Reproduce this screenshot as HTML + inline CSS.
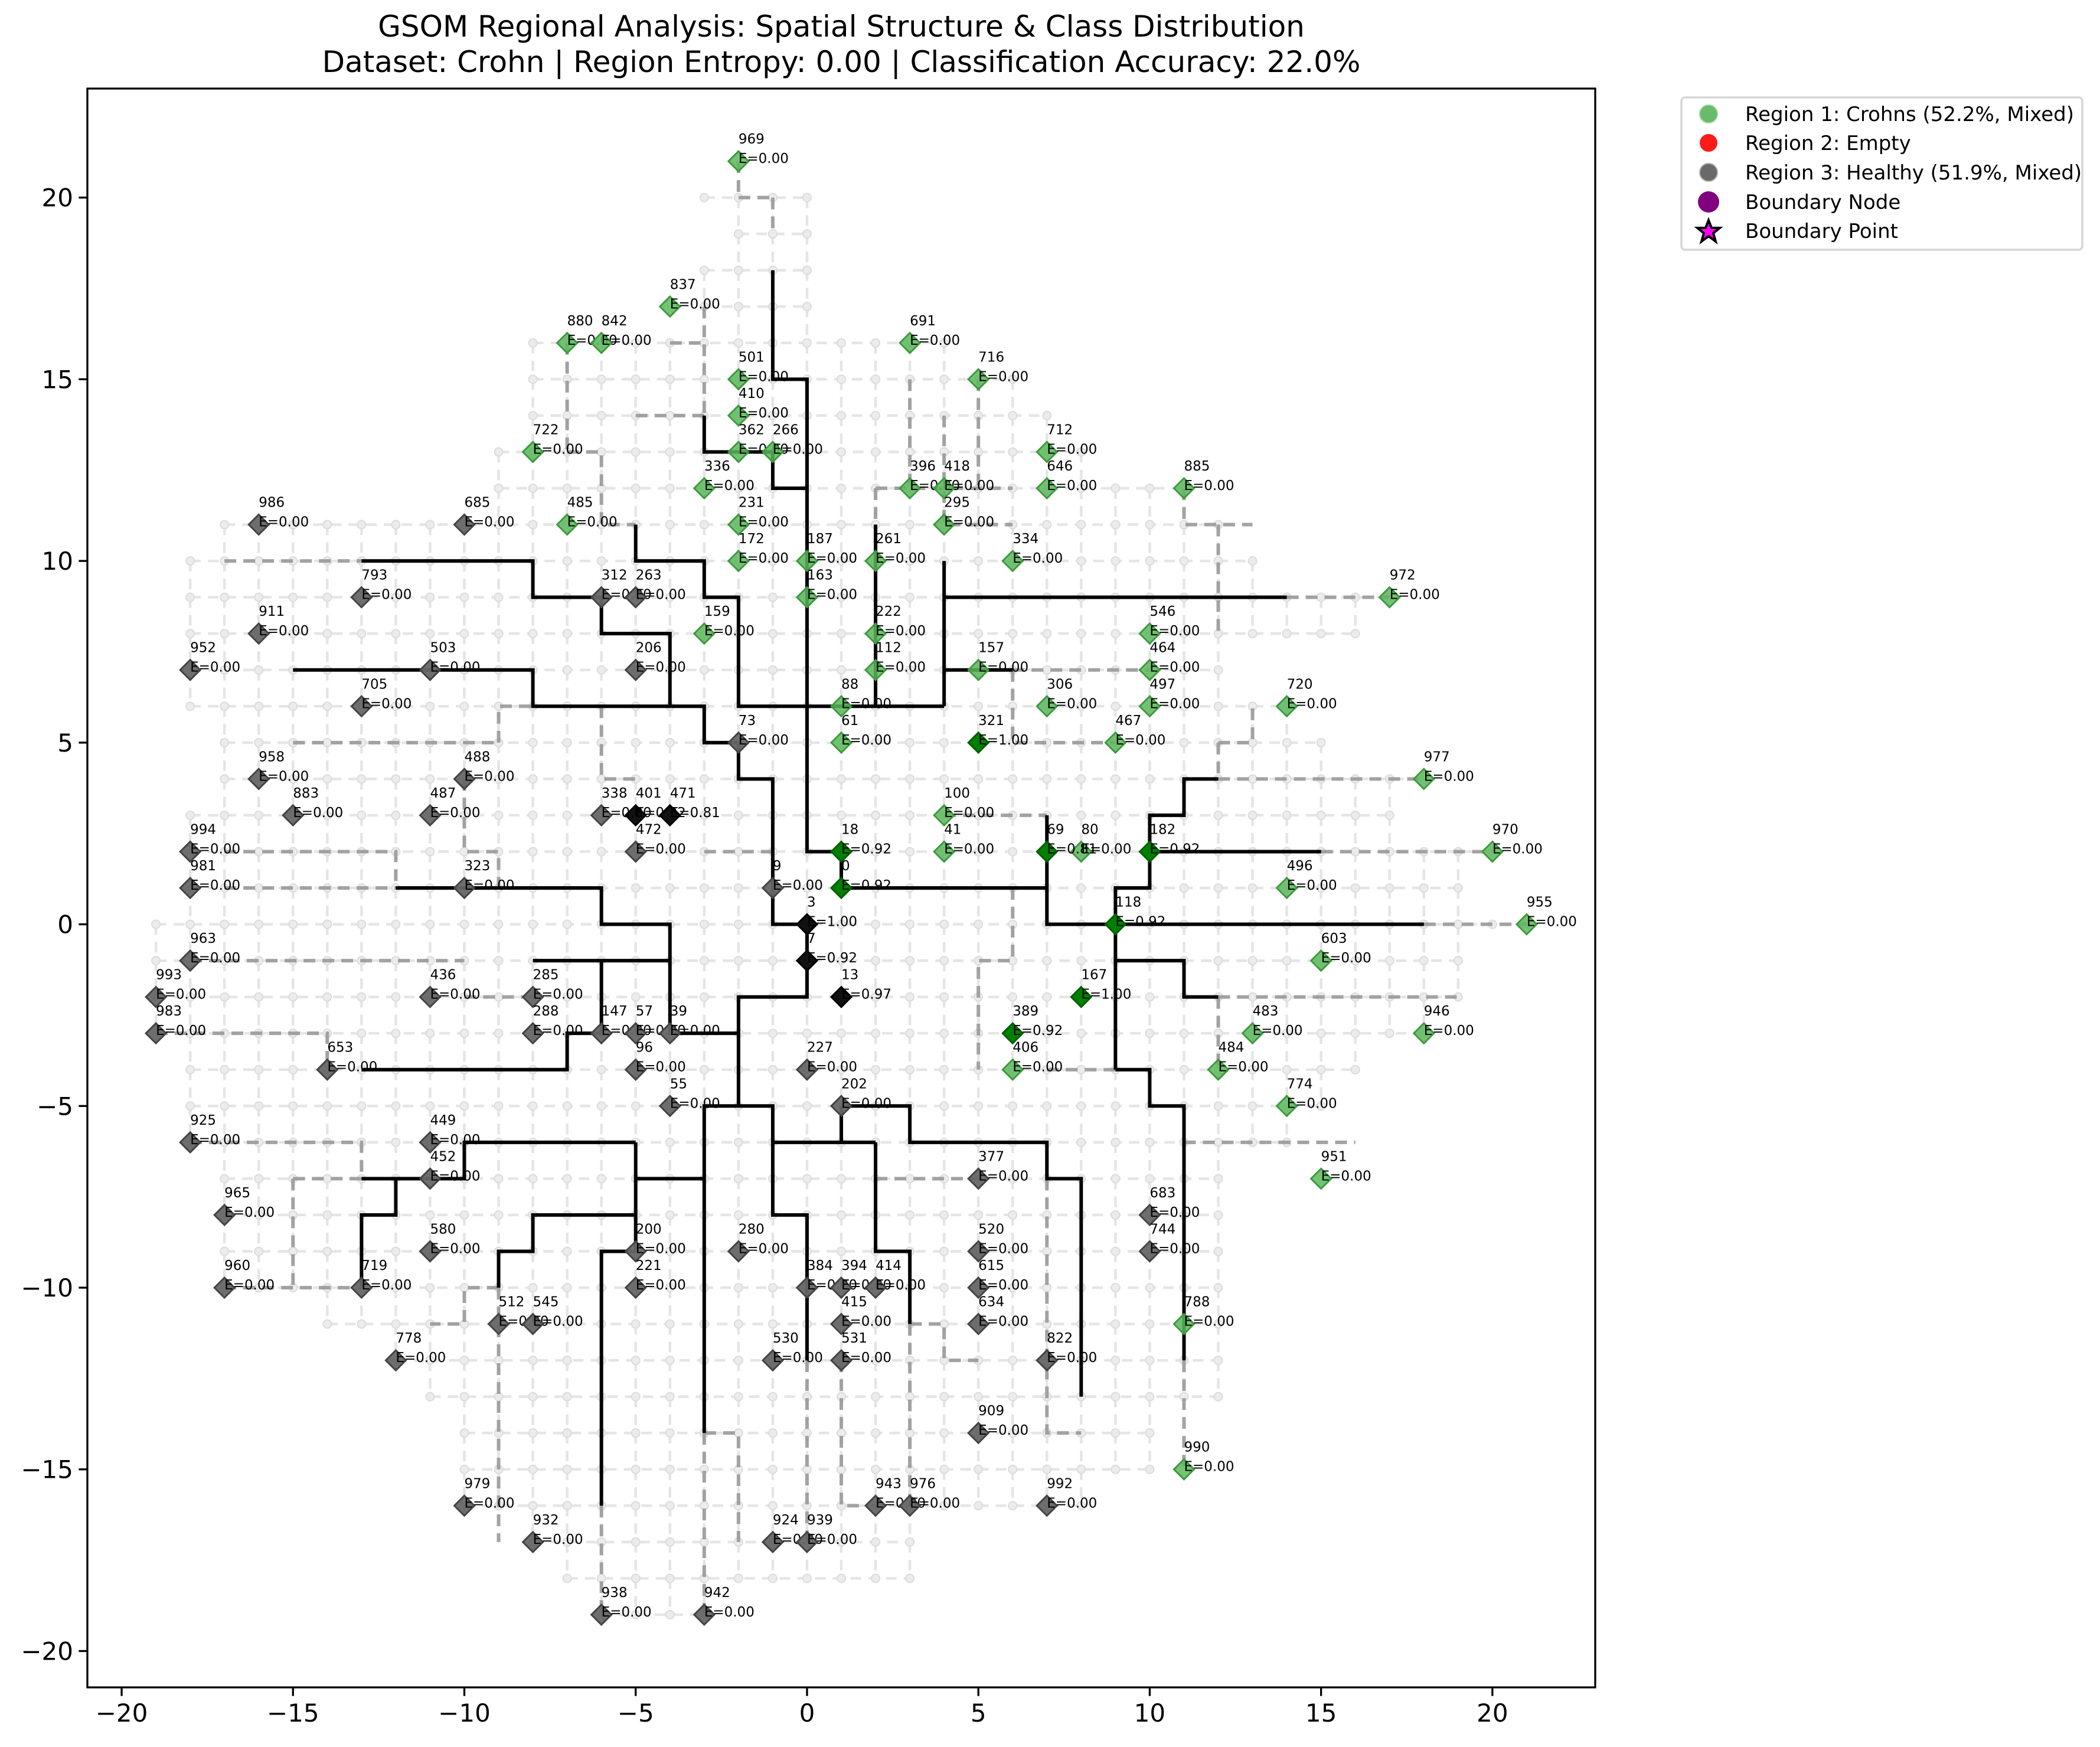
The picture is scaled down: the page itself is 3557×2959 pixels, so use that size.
<!DOCTYPE html>
<html><head><meta charset="utf-8"><style>
html,body{margin:0;padding:0;background:#fff;}
svg{display:block;font-family:"DejaVu Sans","Liberation Sans",sans-serif;}
</style></head><body>
<svg id="chart" width="3557" height="2959" viewBox="0 0 3557 2959" xmlns="http://www.w3.org/2000/svg">
<rect x="0" y="0" width="3557" height="2959" fill="#fff"/>
<text x="1425" y="62" font-size="50" text-anchor="middle">GSOM Regional Analysis: Spatial Structure &amp; Class Distribution</text>
<text x="1425" y="122" font-size="50" text-anchor="middle">Dataset: Crohn | Region Entropy: 0.00 | Classification Accuracy: 22.0%</text>
<g id="grid"></g>
<g id="gpaths"></g>
<g id="bpaths"></g>
<g id="nodes"></g>
<g id="axes"></g>
<g id="legend">
<rect x="2848" y="165" width="679" height="258" rx="6" fill="#fff" stroke="#d6d6d6" stroke-width="3.5"/>
<g><circle cx="2894" cy="193" r="15" fill="#4caf50" fill-opacity="0.85" stroke="#9cd39c" stroke-width="2"/><text x="2956" y="205" font-size="34">Region 1: Crohns (52.2%, Mixed)</text></g>
<g><circle cx="2894" cy="242" r="15" fill="#ff1a1a"/><text x="2956" y="254" font-size="34">Region 2: Empty</text></g>
<g><circle cx="2894" cy="292" r="15" fill="#696969" stroke="#aaa" stroke-width="2"/><text x="2956" y="304" font-size="34">Region 3: Healthy (51.9%, Mixed)</text></g>
<g><circle cx="2894" cy="342" r="18" fill="#800080"/><text x="2956" y="354" font-size="34">Boundary Node</text></g>
<g><polygon points="2894,373 2899,386 2913,386 2902,395 2906,409 2894,400 2882,409 2886,395 2875,386 2889,386" fill="#ff00ff" stroke="#000" stroke-width="4"/><text x="2956" y="403" font-size="34">Boundary Point</text></g>
</g>
</svg>
<script>
// ---- data ----
const nodeIds = [969,837,880,842,691,501,716,410,722,362,266,712,336,396,418,646,885,485,231,295,172,187,261,334,163,972,159,222,546,112,157,464,88,306,497,720,61,467,977,100,41,80,970,496,955,603,483,946,406,484,774,951,788,990,
321,18,0,69,182,118,167,389,
3,7,13,401,471,
986,685,793,312,263,911,952,503,206,705,958,488,883,487,338,994,472,981,323,9,963,993,436,285,983,288,147,57,39,653,96,227,55,202,925,449,452,377,965,683,580,200,280,520,744,960,719,221,384,394,414,615,512,545,415,634,778,530,531,822,909,979,943,976,992,932,924,939,938,942,73];
const nodeX = [-2,-4,-7,-6,3,-2,5,-2,-8,-2,-1,7,-3,3,4,7,11,-7,-2,4,-2,0,2,6,0,17,-3,2,10,2,5,10,1,7,10,14,1,9,18,4,4,8,20,14,21,15,13,18,6,12,14,15,11,11,
5,1,1,7,10,9,8,6,
0,0,1,-5,-4,
-16,-10,-13,-6,-5,-16,-18,-11,-5,-13,-16,-10,-15,-11,-6,-18,-5,-18,-10,-1,-18,-19,-11,-8,-19,-8,-6,-5,-4,-14,-5,0,-4,1,-18,-11,-11,5,-17,10,-11,-5,-2,5,10,-17,-13,-5,0,1,2,5,-9,-8,1,5,-12,-1,1,7,5,-10,2,3,7,-8,-1,0,-6,-3,-2];
const nodeY = [21,17,16,16,16,15,15,14,13,13,13,13,12,12,12,12,12,11,11,11,10,10,10,10,9,9,8,8,8,7,7,7,6,6,6,6,5,5,4,3,2,2,2,1,0,-1,-3,-3,-4,-4,-5,-7,-11,-15,
5,2,1,2,2,0,-2,-3,
0,-1,-2,3,3,
11,11,9,9,9,8,7,7,7,6,4,4,3,3,3,2,2,1,1,1,-1,-2,-2,-2,-3,-3,-3,-3,-3,-4,-4,-4,-5,-5,-6,-6,-7,-7,-8,-8,-9,-9,-9,-9,-9,-10,-10,-10,-10,-10,-10,-10,-11,-11,-11,-11,-12,-12,-12,-12,-14,-16,-16,-16,-16,-17,-17,-17,-19,-19,5];
const nodeClass = "ggggggggggggggggggggggggggggggggggggggggggggggggggggggGGGGGGGGbbbbbkkkkkkkkkkkkkkkkkkkkkkkkkkkkkkkkkkkkkkkkkkkkkkkkkkkkkkkkkkkkkkkkkkkkkkk";
const nodeE = {321:"1.00",18:"0.92",0:"0.92",69:"0.81",182:"0.92",118:"0.92",167:"1.00",389:"0.92",3:"1.00",7:"0.92",13:"0.97",401:"0.92",471:"0.81"};

const treePaths = [
 [[-1,18],[-1,15],[0,15],[0,2],[1,2],[1,1]],
 [[-3,14],[-3,13],[-1,13],[-1,12],[0,12]],
 [[-13,10],[-8,10],[-8,9],[-6,9],[-6,8],[-4,8],[-4,6]],
 [[-5,11],[-5,10],[-3,10],[-3,9],[-2,9],[-2,6],[4,6]],
 [[-15,7],[-8,7],[-8,6],[-3,6],[-3,5],[-2,5],[-2,4],[-1,4],[-1,0],[0,0]],
 [[-12,1],[-6,1],[-6,0],[-4,0],[-4,-3],[-2,-3]],
 [[2,11],[2,6]],
 [[4,10],[4,6]],[[4,9],[14,9]],[[4,7],[6,7]],
 [[1,1],[7,1]],[[7,3],[7,0],[18,0]],
 [[9,-4],[9,1],[10,1],[10,3],[11,3],[11,4],[12,4]],[[10,2],[15,2]],
 [[9,-1],[11,-1],[11,-2],[12,-2]],
 [[9,-4],[10,-4],[10,-5],[11,-5],[11,-12]],
 [[0,0],[0,-2],[-2,-2],[-2,-5]],
 [[-8,-1],[-4,-1]],
 [[-6,-1],[-6,-3],[-7,-3],[-7,-4],[-13,-4]],
 [[-3,-14],[-3,-5],[-1,-5],[-1,-8],[0,-8],[0,-12]],
 [[-1,-6],[2,-6]],
 [[1,-5],[1,-6]],[[1,-5],[3,-5],[3,-6],[7,-6],[7,-7],[8,-7],[8,-13]],
 [[2,-6],[2,-9],[3,-9],[3,-11]],
 [[-5,-7],[-3,-7]],
 [[-5,-6],[-10,-6],[-10,-7],[-13,-7]],
 [[-12,-7],[-12,-8],[-13,-8],[-13,-10]],
 [[-5,-6],[-5,-9]],[[-5,-8],[-8,-8],[-8,-9],[-9,-9],[-9,-10]],
 [[-5,-9],[-6,-9],[-6,-16]]
];
const grayPaths = [
 [[-17,10],[-13,10]],[[-9,5],[-9,6],[-8,6]],[[-15,5],[-9,5]],[[-6,6],[-6,4],[-5,4]],
 [[-7,13],[-6,13],[-6,11],[-5,11]],[[-5,14],[-3,14]],[[-3,17],[-3,14]],[[-7,16],[-7,13]],[[-4,16],[-3,16]],
 [[-2,20],[-1,20]],[[-2,21],[-2,20]],[[-1,20],[-1,19]],
 [[-17,2],[-12,2],[-12,1]],[[-17,1],[-12,1]],[[-10,4],[-10,2],[-9,2],[-9,1]],[[-3,2],[-1,2]],
 [[2,12],[6,12]],[[2,12],[2,11]],[[3,15],[3,12]],[[4,14],[4,11],[6,11]],[[5,15],[5,12]],
 [[11,12],[11,11],[13,11]],[[12,11],[12,8]],[[14,9],[17,9]],[[6,7],[10,7]],[[6,7],[6,5],[9,5]],
 [[12,5],[13,5],[13,6]],[[12,5],[12,4]],[[12,4],[18,4]],[[15,2],[20,2]],[[18,0],[21,0]],[[4,3],[7,3]],
 [[6,1],[6,-1],[5,-1],[5,-4]],[[12,-2],[19,-2]],[[12,-2],[12,-4]],[[7,-4],[9,-4]],[[11,-6],[16,-6]],
 [[2,-7],[5,-7]],[[7,-7],[7,-14],[8,-14]],[[11,-12],[11,-15]],[[1,-12],[1,-16],[2,-16]],
 [[3,-11],[3,-16]],[[3,-11],[4,-11],[4,-12],[5,-12]],[[0,-12],[0,-17]],
 [[-9,-10],[-9,-17]],[[-9,-10],[-10,-10],[-10,-11],[-11,-11]],[[-6,-16],[-6,-19]],
 [[-3,-14],[-3,-19]],[[-3,-14],[-2,-14],[-2,-17]],[[-17,-10],[-13,-10]],[[-18,-6],[-13,-6],[-13,-7]],
 [[-19,-3],[-14,-3],[-14,-4]],[[-18,-1],[-10,-1]],[[-10,-2],[-8,-2]],[[-15,-7],[-15,-10]],[[-15,-7],[-13,-7]]
];
const gridRows = [20,19,18,17,16,15,14,13,12,11,10,9,8,7,6,5,4,3,2,1,0,-1,-2,-3,-4,-5,-6,-7,-8,-9,-10,-11,-12,-13,-14,-15,-16,-17,-18,-19];
const gridMin  = [-3,-2,-3,-3,-8,-8,-8,-9,-9,-17,-18,-18,-18,-18,-18,-17,-17,-18,-18,-18,-19,-19,-19,-19,-18,-18,-18,-17,-17,-17,-17,-14,-12,-11,-10,-10,-10,-8,-7,-6];
const gridMax  = [0,0,0,0,4,6,7,8,11,12,13,17,16,12,14,15,18,17,20,19,21,19,19,18,16,15,14,12,12,12,12,12,12,12,10,10,8,3,3,-3];
const xTicks = [-20,-15,-10,-5,0,5,10,15,20];
const yTicks = [-20,-15,-10,-5,0,5,10,15,20];

const L=148,R=2702,T=150,B=2858, XMIN=-21,XMAX=23,YMIN=-21,YMAX=23;
const sx=v=>L+(v-XMIN)*(R-L)/(XMAX-XMIN);
const sy=v=>B-(v-YMIN)*(B-T)/(YMAX-YMIN);
const NS="http://www.w3.org/2000/svg";
function mk(tag,attrs,parent){const e=document.createElementNS(NS,tag);for(const k in attrs)e.setAttribute(k,attrs[k]);parent.appendChild(e);return e;}
const grid=document.getElementById('grid'), gp=document.getElementById('gpaths'), bp=document.getElementById('bpaths'), nd=document.getElementById('nodes'), ax=document.getElementById('axes');

gridRows.forEach((y,i)=>{
  const ln=mk('line',{x1:sx(gridMin[i]),y1:sy(y),x2:sx(gridMax[i]),y2:sy(y),stroke:'#d4d4d4','stroke-width':4.5,'stroke-dasharray':'18 12','stroke-opacity':0.6},grid);
  
  
  for(let x=gridMin[i];x<=gridMax[i];x++){
    const j=i+1;
    if(j<gridRows.length && x>=gridMin[j] && x<=gridMax[j]){
      const v=mk('line',{x1:sx(x),y1:sy(y),x2:sx(x),y2:sy(gridRows[j]),stroke:'#d4d4d4','stroke-width':4.5,'stroke-dasharray':'18 12','stroke-opacity':0.6},grid);
      
      
    }
    const c=mk('circle',{cx:sx(x),cy:sy(y),r:7,fill:'#ececec',stroke:'#dcdcdc','stroke-width':2},grid);
    
    
  }
});
function pts(p){return p.map(q=>sx(q[0])+','+sy(q[1])).join(' ');}
grayPaths.forEach(p=>{
  const e=mk('polyline',{points:pts(p),fill:'none',stroke:'#999','stroke-width':6,'stroke-dasharray':'20 12','stroke-opacity':0.9},gp);
  
  
});
treePaths.forEach(p=>{
  const e=mk('polyline',{points:pts(p),fill:'none',stroke:'#000','stroke-width':6,'stroke-linejoin':'miter'},bp);
  
  
});
const styles={g:['#5cb85c','#3e9a3e',0.85],G:['#008000','#006000',1],b:['#111','#000',1],k:['#666','#444',0.95]};
nodeIds.forEach((id,i)=>{
  const cx=sx(nodeX[i]), cy=sy(nodeY[i]), s=styles[nodeClass[i]], h=17;
  const g=mk('g',{},nd);
  
  
  mk('polygon',{points:`${cx},${cy-h} ${cx+h},${cy} ${cx},${cy+h} ${cx-h},${cy}`,fill:s[0],'fill-opacity':s[2],stroke:s[1],'stroke-width':3},g);
  const t1=mk('text',{x:cx,y:cy-30,'font-size':23},g); t1.textContent=String(id);
  const t2=mk('text',{x:cx,y:cy+3,'font-size':23},g); t2.textContent='E='+(nodeE[id]||'0.00');
});
const frame=mk('rect',{x:L,y:T,width:R-L,height:B-T,fill:'none',stroke:'#000','stroke-width':3.3},ax);


xTicks.forEach(v=>{
  const t=mk('line',{x1:sx(v),y1:B,x2:sx(v),y2:B+14.6,stroke:'#000','stroke-width':3.3},ax);
  
  
  const l=mk('text',{x:sx(v),y:B+58,'font-size':42,'text-anchor':'middle'},ax);
  
  
  l.textContent=(v<0?'\u2212'+(-v):String(v));
});
yTicks.forEach(v=>{
  const t=mk('line',{x1:L-14.6,y1:sy(v),x2:L,y2:sy(v),stroke:'#000','stroke-width':3.3},ax);
  
  
  const l=mk('text',{x:L-24,y:sy(v)+15,'font-size':42,'text-anchor':'end'},ax);
  
  
  l.textContent=(v<0?'\u2212'+(-v):String(v));
});
</script>
</body></html>
